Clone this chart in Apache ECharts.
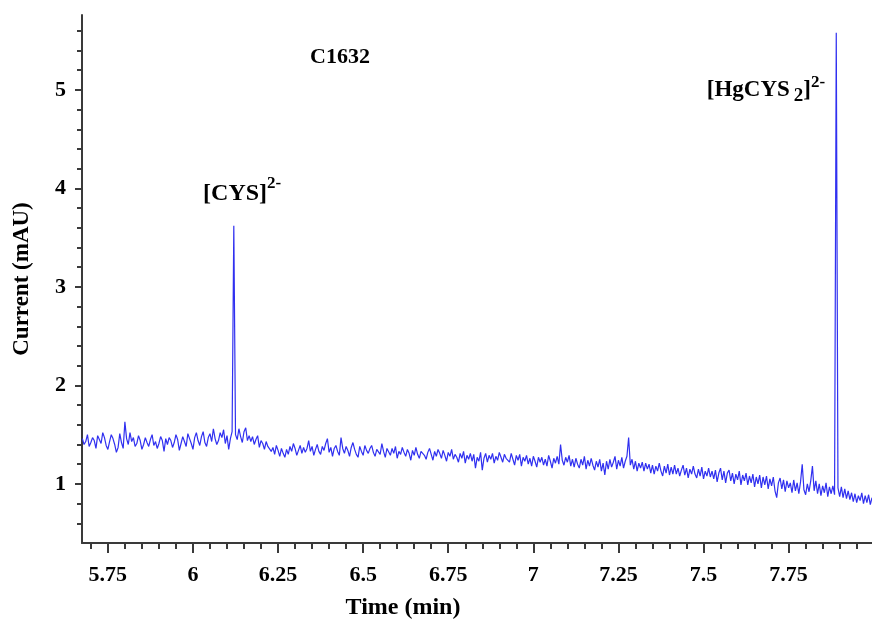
<!DOCTYPE html>
<html>
<head>
<meta charset="utf-8">
<script src="https://cdn.jsdelivr.net/npm/echarts@6/dist/echarts.min.js"></script>
<style>
  html, body { margin: 0; padding: 0; background: #ffffff; }
  #chart { width: 872px; height: 624px; }
</style>
</head>
<body>
<div id="chart"></div>
<script>
// Electropherogram of sample C1632: detector current against migration time.
const startTime = 5.675;   // min, time of the first sample
const sampleStep = 0.005;  // min between consecutive samples

// Detector current (mAU), one value per sample
const current = [
  1.46,1.40,1.43,1.50,1.38,1.42,1.47,1.44,1.36,1.49,
  1.45,1.41,1.52,1.47,1.39,1.35,1.43,1.50,1.46,1.40,
  1.32,1.37,1.51,1.42,1.36,1.63,1.46,1.40,1.52,1.43,
  1.47,1.38,1.41,1.49,1.44,1.35,1.40,1.47,1.42,1.38,
  1.45,1.50,1.39,1.43,1.36,1.41,1.48,1.44,1.33,1.46,
  1.40,1.47,1.44,1.37,1.42,1.50,1.45,1.34,1.41,1.48,
  1.43,1.38,1.51,1.46,1.41,1.35,1.47,1.52,1.44,1.39,
  1.48,1.53,1.42,1.38,1.47,1.51,1.43,1.56,1.46,1.40,
  1.44,1.52,1.47,1.55,1.41,1.49,1.35,1.46,1.53,3.62,
  1.50,1.45,1.56,1.48,1.42,1.53,1.57,1.44,1.49,1.43,
  1.48,1.40,1.45,1.49,1.37,1.44,1.41,1.35,1.43,1.38,
  1.40,1.33,1.37,1.30,1.39,1.34,1.28,1.36,1.31,1.27,
  1.35,1.30,1.38,1.33,1.41,1.36,1.29,1.34,1.39,1.31,
  1.37,1.32,1.36,1.44,1.33,1.38,1.29,1.35,1.40,1.33,
  1.30,1.38,1.34,1.41,1.46,1.32,1.37,1.28,1.36,1.39,
  1.33,1.29,1.47,1.36,1.31,1.38,1.34,1.28,1.37,1.42,
  1.35,1.30,1.27,1.38,1.33,1.29,1.39,1.34,1.31,1.36,
  1.39,1.32,1.28,1.35,1.37,1.30,1.41,1.33,1.27,1.36,
  1.34,1.29,1.36,1.31,1.38,1.26,1.33,1.30,1.37,1.32,
  1.28,1.35,1.31,1.24,1.34,1.29,1.37,1.30,1.26,1.33,
  1.35,1.29,1.25,1.32,1.36,1.30,1.24,1.33,1.28,1.35,
  1.31,1.26,1.34,1.29,1.23,1.32,1.28,1.35,1.25,1.30,
  1.27,1.22,1.31,1.26,1.33,1.21,1.29,1.25,1.31,1.23,
  1.30,1.16,1.27,1.23,1.32,1.14,1.26,1.31,1.22,1.29,
  1.25,1.31,1.21,1.28,1.24,1.32,1.27,1.22,1.30,1.26,
  1.28,1.22,1.31,1.25,1.19,1.29,1.24,1.30,1.18,1.27,
  1.23,1.29,1.20,1.26,1.18,1.28,1.23,1.17,1.27,1.22,
  1.27,1.19,1.25,1.18,1.29,1.23,1.16,1.26,1.21,1.28,
  1.20,1.40,1.24,1.19,1.27,1.22,1.29,1.18,1.25,1.17,
  1.26,1.20,1.16,1.25,1.19,1.28,1.15,1.24,1.18,1.26,
  1.19,1.14,1.23,1.17,1.25,1.13,1.21,1.09,1.23,1.15,
  1.25,1.17,1.22,1.28,1.15,1.24,1.18,1.27,1.16,1.23,
  1.28,1.47,1.19,1.25,1.15,1.23,1.13,1.21,1.16,1.22,
  1.13,1.21,1.15,1.20,1.11,1.19,1.10,1.18,1.13,1.21,
  1.13,1.08,1.18,1.11,1.20,1.09,1.17,1.10,1.19,1.10,
  1.16,1.08,1.14,1.19,1.09,1.16,1.06,1.15,1.10,1.18,
  1.10,1.06,1.15,1.08,1.17,1.05,1.13,1.08,1.16,1.07,
  1.13,1.05,1.14,1.02,1.11,1.16,1.04,1.13,1.01,1.11,
  1.14,1.03,1.11,1.00,1.10,1.04,1.13,0.99,1.09,1.03,
  1.11,0.99,1.08,1.01,1.10,0.97,1.07,1.00,1.09,0.96,
  1.07,0.99,1.08,0.95,1.05,0.98,1.07,0.93,0.86,1.01,
  1.06,0.95,1.04,0.92,1.03,0.96,1.01,0.91,1.04,0.93,
  1.01,0.90,1.02,1.20,0.94,0.89,1.00,0.92,1.03,1.18,
  0.93,1.03,0.90,1.00,0.88,0.98,0.91,1.01,0.87,0.97,
  0.90,0.98,0.89,5.58,0.96,0.87,0.97,0.86,0.95,0.85,
  0.93,0.84,0.91,0.82,0.90,0.81,0.88,0.83,0.91,0.80,
  0.88,0.81,0.89,0.79,0.86
];

// Axis ticks
const timeTicks = [5.75, 6, 6.25, 6.5, 6.75, 7, 7.25, 7.5, 7.75];
const currentTicks = [1, 2, 3, 4, 5];

// Peak annotations: species label and its charge
const peakNames = ['[CYS]', '[HgCYS'];
const peakSub = ['', '2'];
const peakCharge = ['2-', '2-'];

const chartTitle = 'C1632';
const xTitle = 'Time (min)';
const yTitle = 'Current (mAU)';

// ---- build the chart ----
const FONT = '"Liberation Serif", "Times New Roman", serif';
const xMin = 5.674, xMax = 7.995;
const yMin = 0.4, yMax = 5.76;

const seriesData = current.map((v, i) => [+(startTime + i * sampleStep).toFixed(3), v]);

// minor ticks every 0.05 min and every 0.2 mAU, skipping the labelled ones
const timeMinor = [];
for (let k = 114; k <= 159; k++) {
  const t = +(k * 0.05).toFixed(2);
  if (t > xMin && t < xMax && !timeTicks.some(m => Math.abs(m - t) < 1e-6)) timeMinor.push(t);
}
const currentMinor = [];
for (let k = 3; k <= 28; k++) {
  const c = +(k * 0.2).toFixed(1);
  if (c > yMin && c < yMax && !currentTicks.some(m => Math.abs(m - c) < 1e-6)) currentMinor.push(c);
}

const axisLineStyle = { color: '#3a3a3a', width: 2 };
const labelFont = { fontFamily: FONT, fontWeight: 'bold', color: '#000', fontSize: 22 };

function label(i) {
  let s = '{m' + (i + 1) + '|' + peakNames[i] + '}';
  if (peakSub[i]) s += '{b|' + peakSub[i] + '}{m' + (i + 1) + '|]}';
  s += '{s|' + peakCharge[i] + '}';
  return s;
}

const chart = echarts.init(document.getElementById('chart'), null, { renderer: 'canvas' });
chart.setOption({
  animation: false,
  backgroundColor: '#ffffff',
  grid: { left: 82, right: 0, top: 15, bottom: 81, containLabel: false },
  xAxis: [
    {
      type: 'value', min: xMin, max: xMax,
      axisLine: { show: true, onZero: false, lineStyle: axisLineStyle },
      axisTick: { show: true, customValues: timeTicks, length: 10, lineStyle: { color: '#3a3a3a', width: 2 } },
      axisLabel: Object.assign({ customValues: timeTicks, margin: 21 }, labelFont),
      splitLine: { show: false }
    },
    {
      type: 'value', min: xMin, max: xMax, position: 'bottom',
      axisLine: { show: false },
      axisTick: { show: true, customValues: timeMinor, length: 6, lineStyle: { color: '#3a3a3a', width: 2 } },
      axisLabel: { show: false },
      splitLine: { show: false }
    }
  ],
  yAxis: [
    {
      type: 'value', min: yMin, max: yMax,
      name: yTitle, nameLocation: 'middle', nameGap: 48,
      nameTextStyle: { fontFamily: FONT, fontWeight: 'bold', color: '#000', fontSize: 23 },
      axisLine: { show: true, onZero: false, lineStyle: axisLineStyle },
      axisTick: { show: true, customValues: currentTicks, length: 7, lineStyle: { color: '#3a3a3a', width: 2 } },
      axisLabel: Object.assign({ customValues: currentTicks, margin: 16 }, labelFont),
      splitLine: { show: false }
    },
    {
      type: 'value', min: yMin, max: yMax, position: 'left',
      axisLine: { show: false },
      axisTick: { show: true, customValues: currentMinor, length: 5, lineStyle: { color: '#3a3a3a', width: 2 } },
      axisLabel: { show: false },
      splitLine: { show: false }
    }
  ],
  series: [
    {
      type: 'line',
      xAxisIndex: 0, yAxisIndex: 0,
      data: seriesData,
      showSymbol: false,
      symbol: 'none',
      lineStyle: { color: '#3030f0', width: 1.2 },
      z: 3,
      markPoint: {
        symbol: 'circle', symbolSize: 0,
        silent: true,
        label: {
          show: true, position: 'inside',
          color: '#000', fontFamily: FONT, fontWeight: 'bold',
          rich: {
            m1: { fontFamily: FONT, fontWeight: 'bold', color: '#000', fontSize: 24, lineHeight: 38, verticalAlign: 'middle' },
            m2: { fontFamily: FONT, fontWeight: 'bold', color: '#000', fontSize: 23, lineHeight: 32, verticalAlign: 'middle' },
            b: { fontFamily: FONT, fontWeight: 'bold', color: '#000', fontSize: 19, lineHeight: 19, verticalAlign: 'bottom', padding: [0, 0, 0, 4] },
            s: { fontFamily: FONT, fontWeight: 'bold', color: '#000', fontSize: 17, lineHeight: 17, verticalAlign: 'top' }
          }
        },
        data: [
          { coord: [6.1445, 3.94], label: { formatter: label(0) } },
          { coord: [7.6835, 5.0], label: { formatter: label(1) } }
        ]
      }
    }
  ],
  graphic: [
    {
      type: 'text', x: 340, y: 57,
      style: { text: chartTitle, fontFamily: FONT, fontWeight: 'bold', fontSize: 22, fill: '#000', textAlign: 'center', textVerticalAlign: 'middle' }
    },
    {
      type: 'text', x: 403, y: 608,
      style: { text: xTitle, fontFamily: FONT, fontWeight: 'bold', fontSize: 24, fill: '#000', textAlign: 'center', textVerticalAlign: 'middle' }
    }
  ]
});
</script>
</body>
</html>
